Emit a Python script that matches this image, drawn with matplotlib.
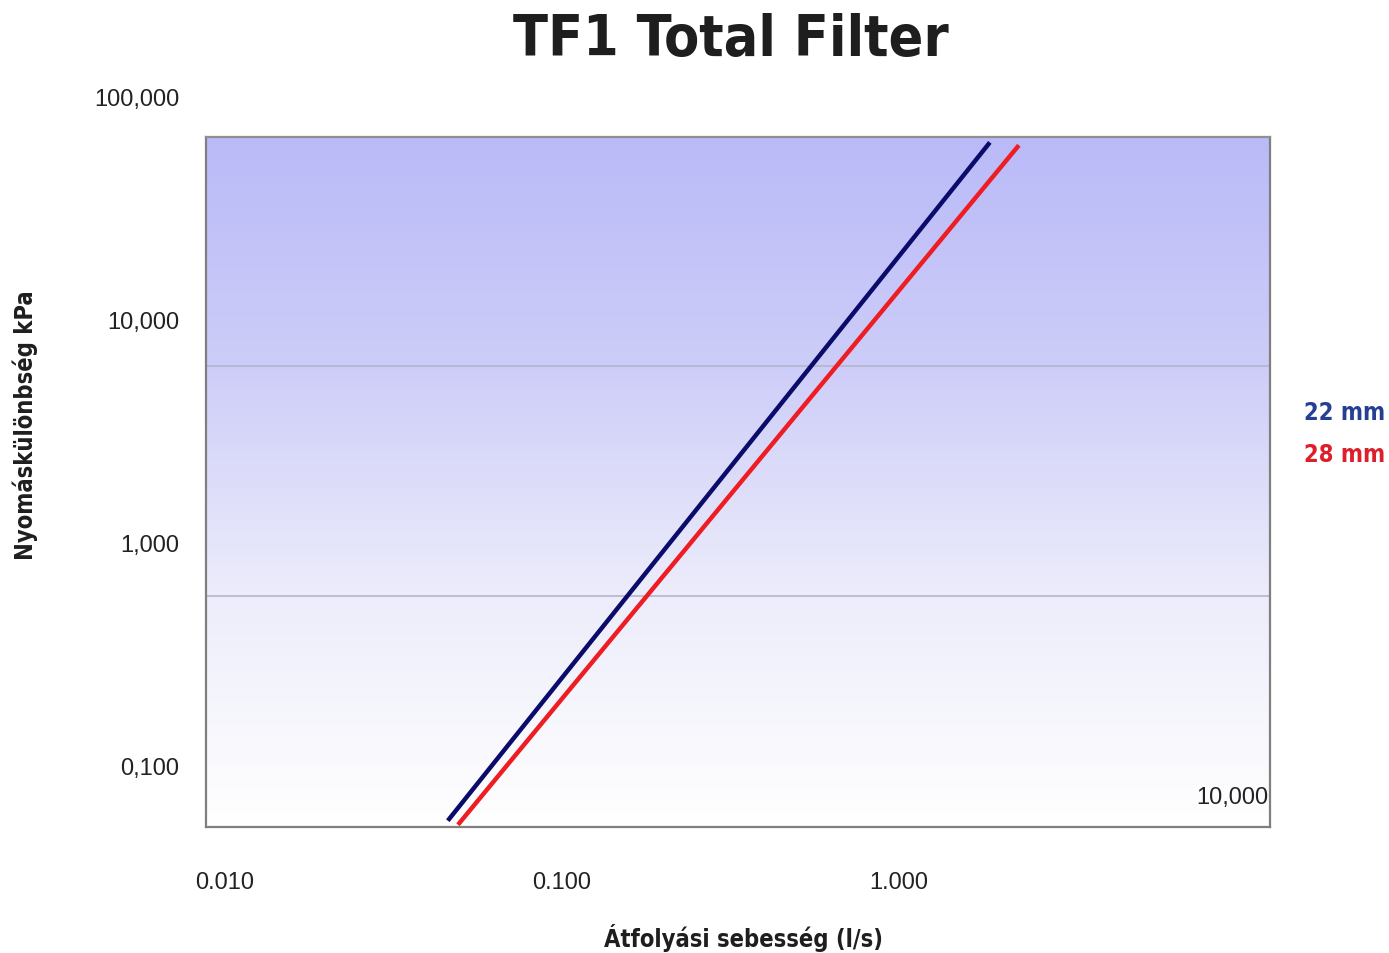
import numpy as np
import matplotlib
matplotlib.use("Agg")
from matplotlib import pyplot as plt
from matplotlib.colors import LinearSegmentedColormap
from matplotlib.transforms import offset_copy

NARROW = ["DejaVu Sans"]
REGULAR = ["Liberation Sans", "DejaVu Sans"]

# flow (l/s) vs pressure drop (kPa)
flow_22 = [0.0459, 1.87]
dp_22 = [0.0555, 61.5]
flow_28 = [0.0492, 2.28]
dp_28 = [0.0532, 59.7]

x_ticks = [0.01, 0.1, 1.0, 10.0]
x_labels = ["0.010", "0.100", "1.000", "10,000"]
y_ticks = [0.1, 1.0, 10.0, 100.0]
y_labels = ["0,100", "1,000", "10,000", "100,000"]
grid_levels = [0.567, 6.1]

fig = plt.figure(figsize=(13.89, 9.54), dpi=100)
ax = fig.add_axes([0.1483, 0.1321, 0.766, 0.7232])
ax.set_xscale("log")
ax.set_yscale("log")
ax.set_xlim(0.00878, 12.7)
ax.set_ylim(0.052, 65)

# lavender at the top fading to white at the bottom
cmap = LinearSegmentedColormap.from_list(
    "bg", [(0.0, "#ffffff"), (0.33, "#ededfb"), (0.67, "#cdcdf9"), (1.0, "#babaf8")])
grad = np.linspace(0, 1, 256).reshape(-1, 1)
ax.imshow(grad, cmap=cmap, aspect="auto", extent=[0, 1, 0, 1],
          transform=ax.transAxes, origin="lower", zorder=0)

for g in grid_levels:
    ax.axhline(g, color="#b4b4cc", lw=1.2, zorder=1)

ax.plot(flow_22, dp_22, color="#0b0b6b", lw=3.2, zorder=3, solid_capstyle="butt")
ax.plot(flow_28, dp_28, color="#ee1d23", lw=3.2, zorder=3, solid_capstyle="butt")

ax.set_xticks([])
ax.set_yticks([])
ax.minorticks_off()
for s in ax.spines.values():
    s.set_color("#7f7f7f")
    s.set_linewidth(1.6)
ax.spines["top"].set_color("#909090")

# tick labels are off the grid in the original, so they are drawn as text
trans_x = ax.get_xaxis_transform()
for v, lab in zip(x_ticks[:-1], x_labels[:-1]):
    ax.text(v, -0.08, lab, transform=trans_x, ha="center", va="center",
            fontsize=17, color="#222222", family=REGULAR, clip_on=False)
ax.text(x_ticks[-1] * 0.98, 0.043, x_labels[-1], transform=trans_x, ha="center",
        va="center", fontsize=17, color="#222222", family=REGULAR, clip_on=False)

trans_y = offset_copy(ax.get_yaxis_transform(), fig=fig, x=0, y=-4, units="dots")
for v, lab in zip(y_ticks, y_labels):
    ax.text(-0.025, v, lab, transform=trans_y, ha="right", va="center",
            fontsize=17, color="#222222", family=REGULAR, clip_on=False)

bold = dict(fontweight="bold", family=NARROW, fontstretch="condensed")
fig.text(0.526, 0.958, "TF1 Total Filter", ha="center", va="center",
         fontsize=41, color="#1e1e1e", **bold)
fig.text(0.535, 0.017, "Átfolyási sebesség (l/s)", ha="center", va="center",
         fontsize=17, color="#1e1e1e", **bold)
fig.text(0.018, 0.5545, "Nyomáskülönbség kPa", ha="center", va="center",
         rotation=90, fontsize=17, color="#1e1e1e", **bold)

fig.text(0.997, 0.567, "22 mm", ha="right", va="center", fontsize=17,
         color="#253f94", **bold)
fig.text(0.997, 0.523, "28 mm", ha="right", va="center", fontsize=17,
         color="#dd1f2b", **bold)

fig.savefig("out.png", dpi=100)
plt.close(fig)
